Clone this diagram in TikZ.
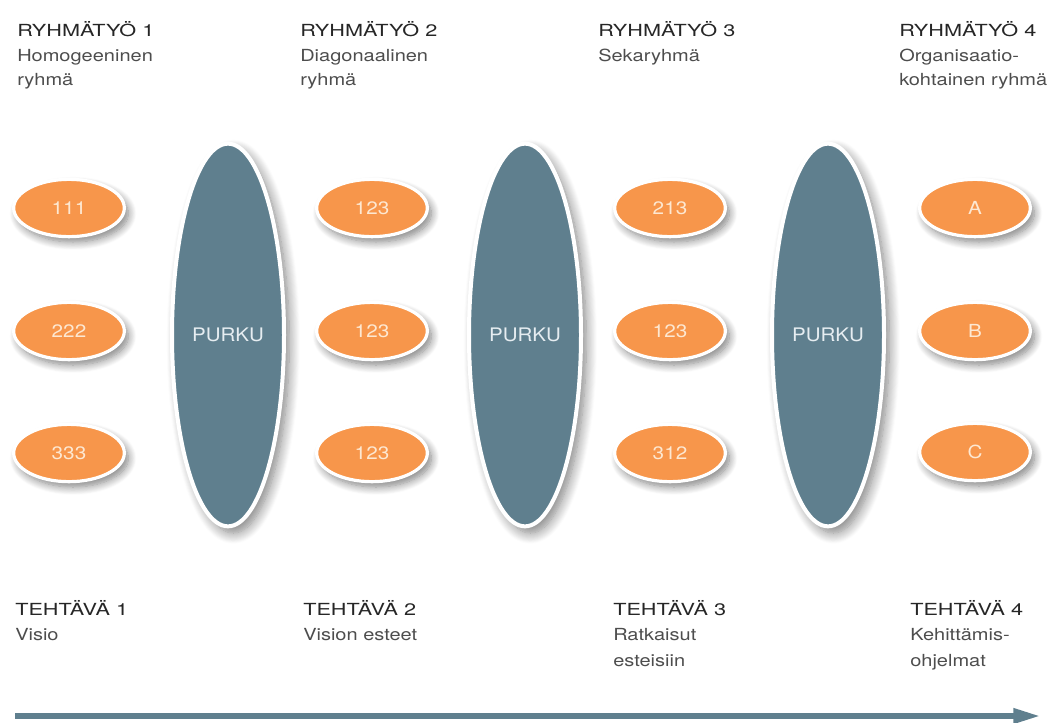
\documentclass[tikz,border=0pt]{standalone}
\usepackage{fontspec}
\setmainfont{TeX Gyre Heros}
\usetikzlibrary{shapes.geometric,shadows.blur,arrows.meta}

\definecolor{grouporange}{HTML}{F7964B}
\definecolor{purkublue}{HTML}{5F7F8E}
\definecolor{headtext}{HTML}{262626}
\definecolor{subtext}{HTML}{4D4D4D}
\definecolor{numtext}{HTML}{FDE8D2}
\definecolor{purkutext}{HTML}{E6EDF1}

% horizontally widened lettering
\newcommand\widetext[2][1.2]{\scalebox{#1}[1]{#2}}
\newcommand\headtext[1]{\widetext[1.3]{#1}}

\tikzset{
  group/.style={ellipse, fill=grouporange, draw=white, line width=2.4pt,
    minimum width=83pt, minimum height=43pt, inner sep=0pt,
    text=numtext, font=\fontsize{13.5}{15}\selectfont,
    blur shadow={shadow xshift=3pt, shadow yshift=-4pt, shadow blur radius=6pt,
      shadow blur steps=10, shadow opacity=50}},
  purku/.style={ellipse, fill=purkublue, draw=white, line width=3pt,
    minimum width=84pt, minimum height=287pt, inner sep=0pt,
    text=purkutext, font=\fontsize{14}{16}\selectfont,
    blur shadow={shadow xshift=4pt, shadow yshift=-5pt, shadow blur radius=8pt,
      shadow blur steps=12, shadow opacity=50}},
  headline/.style={anchor=base west, inner sep=0pt, text=headtext,
    font=\fontsize{12.5}{15}\selectfont},
  subline/.style={anchor=base west, inner sep=0pt, text=subtext,
    font=\fontsize{12.5}{15}\selectfont},
  timeline/.style={draw=purkublue, line width=3.8pt,
    -{Triangle[length=20pt, width=11pt]}},
}

\begin{document}
\begin{tikzpicture}[x=0.75pt, y=-0.75pt]
\useasboundingbox (0,0) rectangle (1056,722);

% group headings
\node[headline] (r1) at (17,36) {\headtext{RYHMÄTYÖ 1}};
\node[subline]  (r1a) at (17,61) {\widetext{Homogeeninen}};
\node[subline]  (r1b) at (17,85) {\widetext{ryhmä}};

\node[headline] (r2) at (300,36) {\headtext{RYHMÄTYÖ 2}};
\node[subline]  (r2a) at (300,61) {\widetext{Diagonaalinen}};
\node[subline]  (r2b) at (300,85) {\widetext{ryhmä}};

\node[headline] (r3) at (598,36) {\headtext{RYHMÄTYÖ 3}};
\node[subline]  (r3a) at (598,61) {\widetext{Sekaryhmä}};

\node[headline] (r4) at (899,36) {\headtext{RYHMÄTYÖ 4}};
\node[subline]  (r4a) at (899,61) {\widetext{Organisaatio-}};
\node[subline]  (r4b) at (899,85) {\widetext{kohtainen ryhmä}};

% discharge sessions between the group rounds
\node[purku] (p1) at (228,335) {\widetext[1.1]{PURKU}};
\node[purku] (p2) at (525,335) {\widetext[1.1]{PURKU}};
\node[purku] (p3) at (828,335) {\widetext[1.1]{PURKU}};

% groups of each round
\node[group] (g11) at (69,208) {\widetext[1.15]{111}};
\node[group] (g12) at (69,331) {\widetext[1.15]{222}};
\node[group] (g13) at (69,453) {\widetext[1.15]{333}};

\node[group] (g21) at (372,208) {\widetext[1.15]{123}};
\node[group] (g22) at (372,331) {\widetext[1.15]{123}};
\node[group] (g23) at (372,453) {\widetext[1.15]{123}};

\node[group] (g31) at (670,208) {\widetext[1.15]{213}};
\node[group] (g32) at (670,331) {\widetext[1.15]{123}};
\node[group] (g33) at (670,453) {\widetext[1.15]{312}};

\node[group] (g41) at (975,208) {\widetext[1.15]{A}};
\node[group] (g42) at (975,331) {\widetext[1.15]{B}};
\node[group] (g43) at (975,452) {\widetext[1.15]{C}};

% tasks
\node[headline] (t1) at (15,615) {\headtext{TEHTÄVÄ 1}};
\node[subline]  (t1a) at (15,640) {\widetext{Visio}};

\node[headline] (t2) at (303,615) {\headtext{TEHTÄVÄ 2}};
\node[subline]  (t2a) at (303,640) {\widetext{Vision esteet}};

\node[headline] (t3) at (613,615) {\headtext{TEHTÄVÄ 3}};
\node[subline]  (t3a) at (613,640) {\widetext{Ratkaisut}};
\node[subline]  (t3b) at (613,666) {\widetext{esteisiin}};

\node[headline] (t4) at (910,615) {\headtext{TEHTÄVÄ 4}};
\node[subline]  (t4a) at (910,640) {\widetext{Kehittämis-}};
\node[subline]  (t4b) at (910,666) {\widetext{ohjelmat}};

% time axis
\coordinate (axisstart) at (15,716);
\coordinate (axisend) at (1040,716);
\draw[timeline] (axisstart) -- (axisend);
\end{tikzpicture}
\end{document}
